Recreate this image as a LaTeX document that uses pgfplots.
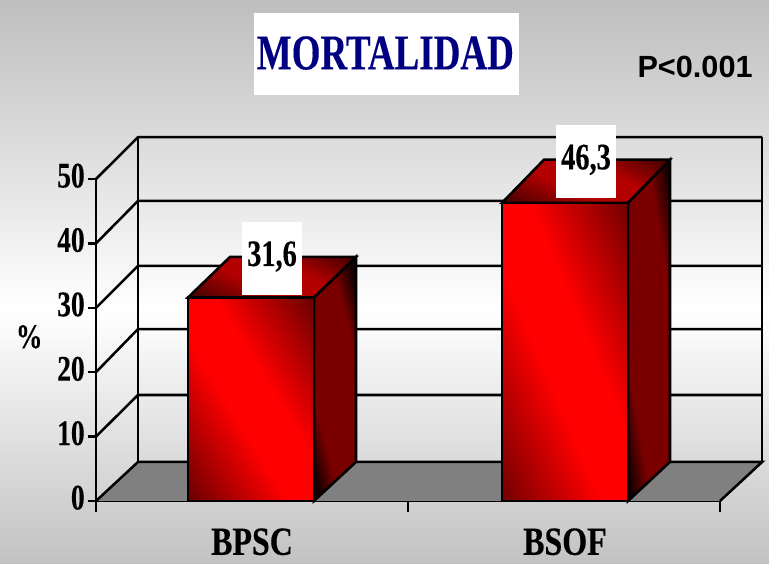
\documentclass[border=0pt]{standalone}
\usepackage{pgfplots}
\usepackage{fontspec}
\pgfplotsset{compat=1.18}
\setmainfont{Liberation Serif}
\newfontfamily\condfont[FakeStretch=0.76,BoldFeatures={FakeBold=0.3}]{Liberation Serif}
\newfontfamily\labfont[FakeStretch=0.8,BoldFeatures={FakeBold=0.3}]{Liberation Serif}
\newfontfamily\titlefont[FakeStretch=0.74,BoldFeatures={FakeBold=0.2}]{Liberation Serif}
\newfontfamily\arialfont{Liberation Sans}
\definecolor{navytitle}{HTML}{000080}
\definecolor{floorgray}{HTML}{808080}
\definecolor{bgend}{HTML}{BEBEBE}
\definecolor{bgbot}{HTML}{C2C2C2}
\definecolor{dkfront}{HTML}{700000}
\definecolor{dkside}{HTML}{140000}
\definecolor{mdside}{HTML}{7A0000}
\definecolor{dktop}{HTML}{3C0000}
\definecolor{mdtop}{HTML}{B40000}
\pgfdeclareverticalshading{bgshade}{100bp}{color(0bp)=(bgbot); color(25bp)=(bgbot); color(47.5bp)=(white); color(75bp)=(bgend); color(100bp)=(bgend)}
\pgfdeclarehorizontalshading{barfront}{100bp}{color(0bp)=(dkfront); color(17bp)=(dkfront); color(43bp)=(red); color(57bp)=(red); color(83bp)=(dkfront); color(100bp)=(dkfront)}
\pgfdeclarehorizontalshading{barside}{100bp}{color(0bp)=(dkside); color(24bp)=(dkside); color(35bp)=(mdside); color(65bp)=(mdside); color(76bp)=(dkside); color(100bp)=(dkside)}
\pgfdeclarehorizontalshading{bartop}{100bp}{color(0bp)=(dktop); color(16bp)=(dktop); color(42bp)=(mdtop); color(60bp)=(mdtop); color(84bp)=(dktop); color(100bp)=(dktop)}
\begin{document}
\begin{tikzpicture}[x=1pt,y=1pt]
\path[shading=bgshade] (0,0) rectangle (576.75,423);
\begin{axis}[
  at={(72pt,47.25pt)}, anchor=origin,
  scale only axis, width=468pt, height=241.5pt,
  xmin=0, xmax=2, ymin=0, ymax=50,
  clip=false,
  axis x line*=bottom, axis y line*=left,
  axis line style={line width=1.9pt, black, -},
  xtick={0.5,1.503}, xticklabels={BPSC,BSOF},
  ytick={0,10,20,30,40,50},
  major tick length=6pt,
  tick align=outside,
  y tick style={line width=1.9pt, black},
  x tick style={draw=none},
  extra x ticks={0,1,2},
  extra x tick labels={},
  extra x tick style={major tick length=8.25pt, x tick style={draw=black, line width=1.9pt}},
  /pgf/number format/assume math mode=true,
  tick label style={text=black},
  yticklabel style={font=\condfont\bfseries\fontsize{27}{30}\selectfont, yshift=2.5pt, xshift=1pt},
  xticklabel style={font=\labfont\bfseries\fontsize{30}{32}\selectfont, yshift=-11pt},
  ylabel={\%},
  ylabel style={rotate=-90, at={(axis description cs:-0.107,0.51)}, anchor=center, font=\condfont\bfseries\fontsize{26}{28}\selectfont},
]
% floor
\addplot[draw=none, fill=floorgray, forget plot] coordinates {(0,0) (0.1346,6.06) (2.135,6.06) (2,0)} --cycle;
% walls
\addplot[black, line width=1.9pt] coordinates {(0.1346,6.06) (0.1346,56.5)};
\addplot[black, line width=1.9pt] coordinates {(2.135,6.06) (2.135,56.5)};
\addplot[black, line width=1.9pt] coordinates {(0,0) (0.1346,6.06) (2.135,6.06) (2,0)};
\addplot[black, line width=1.9pt] coordinates {(0,10) (0.1346,16.46) (2.135,16.46)};
\addplot[black, line width=1.9pt] coordinates {(0,20) (0.1346,26.7) (2.135,26.7)};
\addplot[black, line width=1.9pt] coordinates {(0,30) (0.1346,36.5) (2.135,36.5)};
\addplot[black, line width=1.9pt] coordinates {(0,40) (0.1346,46.6) (2.135,46.6)};
\addplot[black, line width=1.9pt] coordinates {(0,50) (0.1346,56.5) (2.135,56.5)};
% bar 1 side and top
\addplot[draw=black, line width=1.9pt, shading=barside, shading angle=14.4] coordinates {(0.6987,0) (0.8333,6.06) (0.8333,37.9) (0.6987,31.6)} --cycle;
\addplot[draw=black, line width=1.9pt, shading=bartop, shading angle=64.5] coordinates {(0.2949,31.6) (0.4295,37.9) (0.8333,37.9) (0.6987,31.6)} --cycle;
% bar 2 side and top
\addplot[draw=black, line width=1.9pt, shading=barside, shading angle=9.2] coordinates {(1.7051,0) (1.8397,6.06) (1.8397,53.0) (1.7051,46.3)} --cycle;
\addplot[draw=black, line width=1.9pt, shading=bartop, shading angle=64.5] coordinates {(1.3013,46.3) (1.4359,53.0) (1.8397,53.0) (1.7051,46.3)} --cycle;
% front faces
\addplot[ybar, bar width=94.5pt, bar shift=0pt, draw=black, line width=1.9pt, shading=barfront, shading angle=31.8] coordinates {(0.497,31.6)};
\addplot[ybar, bar width=94.5pt, bar shift=0pt, draw=black, line width=1.9pt, shading=barfront, shading angle=23] coordinates {(1.503,46.3)};
\end{axis}
% value labels and titles (pixel positions x 0.75)
\fill[white] (181.5,201.75) rectangle (226.5,256.5);
\node[font=\condfont\bfseries\fontsize{28}{30}\selectfont, anchor=base] at (204,223.5) {31,6};
\fill[white] (417,274.5) rectangle (462,329.25);
\node[font=\condfont\bfseries\fontsize{28}{30}\selectfont, anchor=base] at (439.5,296) {46,3};
\fill[white] (190.5,352) rectangle (389.25,413.25);
\node[font=\titlefont\bfseries\fontsize{37.5}{40}\selectfont, text=navytitle, anchor=base] at (289,371) {MORTALIDAD};
\node[font=\arialfont\bfseries\fontsize{23}{25}\selectfont, anchor=base east] at (568,365) {P<0.001};
\end{tikzpicture}
\end{document}
